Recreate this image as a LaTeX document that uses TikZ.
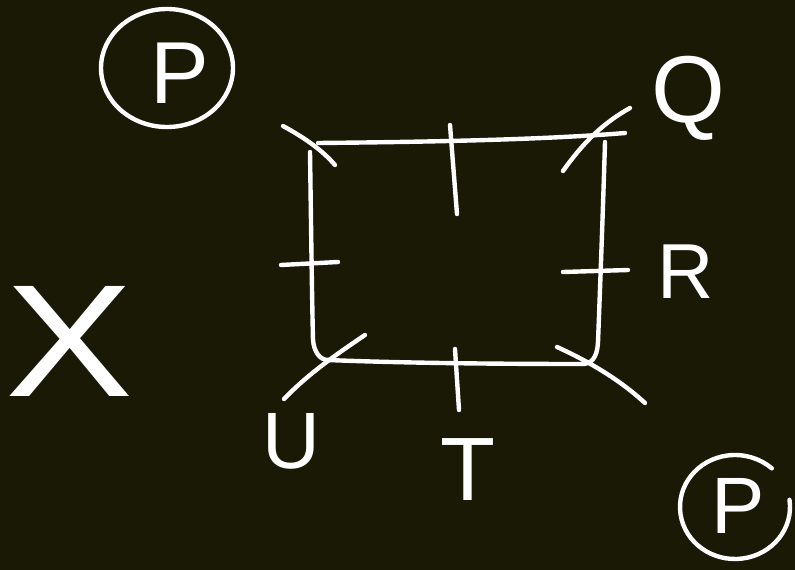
\documentclass[tikz,border=0pt]{standalone}
\usepackage{fontspec}
\setmainfont{Liberation Sans}
\usetikzlibrary{calc}
\definecolor{bg}{RGB}{26,25,6}
\tikzset{
  pen/.style={draw=white, line width=4.4pt, line cap=round, line join=round},
  lab/.style={text=white, inner sep=0pt, anchor=center},
}
\begin{document}
\begin{tikzpicture}[x=1pt,y=-1pt]
\fill[bg] (0,0) rectangle (795,570);
\useasboundingbox (0,0) rectangle (795,570);
% corners of the square
\coordinate (tl) at (318,143);
\coordinate (tr) at (625,133);
\coordinate (rt) at (605,142);
\coordinate (rb) at (598,342);
\coordinate (bl) at (328,360);
\coordinate (br) at (582,364);
\coordinate (lt) at (310,152);
\coordinate (lb) at (313,340);
% edges
\draw[pen] (tl) .. controls (420,142) and (540,140) .. (tr);
\draw[pen] (rt) .. controls (603,210) and (600,290) .. (rb);
\draw[pen] (rb) .. controls (597,360) and (590,364) .. (br);
\draw[pen] (br) .. controls (500,364) and (400,363) .. (bl);
\draw[pen] (lt) .. controls (311,220) and (312,300) .. (lb);
\draw[pen] (lb) .. controls (314,352) and (320,360) .. (bl);
% corner ticks
\coordinate (c1a) at (283,126); \coordinate (c1b) at (335,165);
\coordinate (c2a) at (563,171); \coordinate (c2b) at (630,108);
\coordinate (c3a) at (284,399); \coordinate (c3b) at (365,335);
\coordinate (c4a) at (557,347); \coordinate (c4b) at (645,403);
\draw[pen] (c1a) .. controls (305,138) and (322,150) .. (c1b);
\draw[pen] (c2a) .. controls (585,140) and (605,122) .. (c2b);
\draw[pen] (c3a) .. controls (310,372) and (340,352) .. (c3b);
\draw[pen] (c4a) .. controls (590,362) and (620,380) .. (c4b);
% edge ticks
\coordinate (e1a) at (450,125); \coordinate (e1b) at (457,214);
\coordinate (e2a) at (281,265); \coordinate (e2b) at (338,262);
\coordinate (e3a) at (563,272); \coordinate (e3b) at (628,270);
\coordinate (e4a) at (455,349); \coordinate (e4b) at (459,410);
\draw[pen] (e1a) -- (e1b);
\draw[pen] (e2a) -- (e2b);
\draw[pen] (e3a) -- (e3b);
\draw[pen] (e4a) -- (e4b);
% circles
\coordinate (pc1) at (167,68);
\draw[pen] (pc1) ellipse[x radius=66, y radius=59];
\coordinate (pc2) at (735,507);
\draw[pen] ($(pc2)+(-8:55 and 52)$) arc[start angle=-8, end angle=312, x radius=55, y radius=52];
% labels
\node[lab, font=\fontsize{88}{88}\selectfont] (P1) at (180,73) {P};
\node[lab, font=\fontsize{95}{95}\selectfont] (Q) at (688,98) {Q};
\node[lab, font=\fontsize{78}{78}\selectfont] (R) at (686,272) {R};
\node[lab, font=\fontsize{80}{80}\selectfont] (U) at (291,441) {U};
\node[lab, font=\fontsize{90}{90}\selectfont] (T) at (468,470) {T};
\node[lab, font=\fontsize{80}{80}\selectfont] (P2) at (738,506) {P};
\node[lab, font=\fontsize{160}{160}\selectfont, xscale=1.2] (X) at (70,341) {X};
\end{tikzpicture}
\end{document}
